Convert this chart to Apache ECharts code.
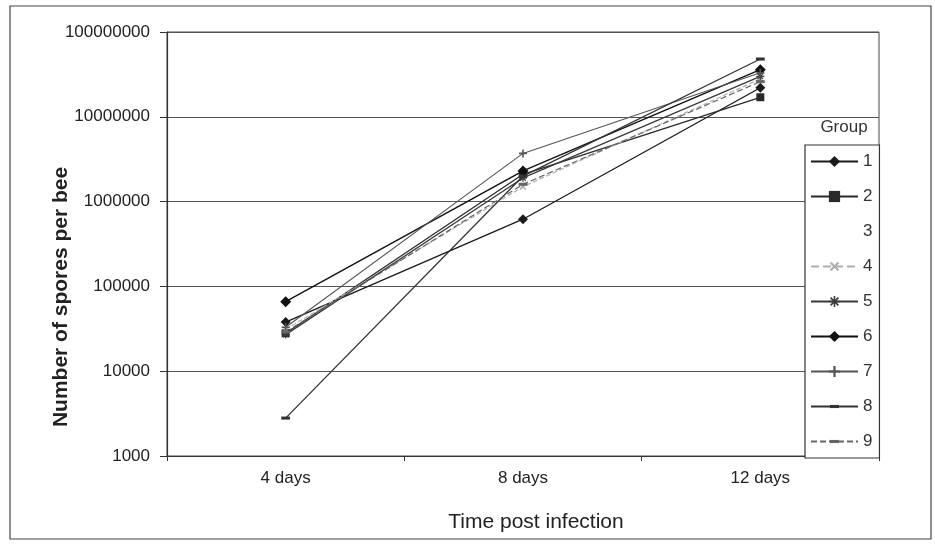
<!DOCTYPE html>
<html><head><meta charset="utf-8">
<script src="https://cdn.jsdelivr.net/npm/echarts@6/dist/echarts.min.js"></script>
<style>html,body{margin:0;padding:0;background:#fff}#c{width:935px;height:544px}</style>
</head><body><div id="c"></div>
<script>
var categories = ['4 days', '8 days', '12 days'];
var groupNames = ['1','2','3','4','5','6','7','8','9'];
var g1 = [38000, 620000, 22000000];
var g2 = [28000, 2100000, 17000000];
var g3 = [];
var g4 = [31000, 1500000, 28000000];
var g5 = [27000, 1900000, 30000000];
var g6 = [66000, 2300000, 36000000];
var g7 = [33000, 3700000, 33000000];
var g8 = [2800, 2000000, 48000000];
var g9 = [29000, 1600000, 26000000];
var yTicks = [1000, 10000, 100000, 1000000, 10000000, 100000000];

var FONT = '"Liberation Sans", Arial, sans-serif';
var plusPath = 'path://M4,0h2v10h-2zM0,4h10v2h-10z';
var starPath = 'path://M4.3,0h1.4v10h-1.4zM0,4.3h10v1.4h-10zM1,2L2,1L9,8L8,9zM8,1L9,2L2,9L1,8z';
var dashPath = 'path://M1,3.6h8v2.8h-8zM5,0M5,10M0,5M10,5';

function mk(name, data, color, symbol, size, lineType, width, rotate) {
  return {
    name: name, type: 'line', data: data,
    symbol: symbol, symbolSize: size, symbolRotate: rotate || 0,
    lineStyle: {color: color, width: width, type: lineType},
    itemStyle: {color: color},
    emphasis: {disabled: true},
    z: 3
  };
}
var series = [
  mk('1', g1, '#1a1a1a', 'diamond', 10, 'solid', 1.3),
  mk('2', g2, '#2a2a2a', 'rect', 8, 'solid', 1.3),
  {name: '3', type: 'line', data: g3, symbol: 'none', lineStyle: {opacity: 0, width: 0}, itemStyle: {opacity: 0}},
  mk('4', g4, '#b0b0b0', plusPath, 8, 'dashed', 1.2, 45),
  mk('5', g5, '#3a3a3a', starPath, 8, 'solid', 1.3),
  mk('6', g6, '#111111', 'diamond', 11, 'solid', 1.4),
  mk('7', g7, '#555555', plusPath, 8, 'solid', 1.1),
  mk('8', g8, '#333333', dashPath, 11, 'solid', 1.3),
  mk('9', g9, '#666666', dashPath, 11, [6, 3], 1.2)
];

var chart = echarts.init(document.getElementById('c'), null, {renderer: 'canvas'});
chart.setOption({
  animation: false,
  backgroundColor: '#ffffff',
  grid: {left: 167, right: 56, top: 32, bottom: 88, show: true, borderColor: '#444', borderWidth: 1, backgroundColor: 'transparent'},
  xAxis: {
    type: 'category', data: categories, boundaryGap: true,
    axisLine: {lineStyle: {color: '#333', width: 1.2}},
    axisTick: {show: true, length: 5, lineStyle: {color: '#333'}},
    axisLabel: {color: '#222', fontFamily: FONT, fontSize: 17, margin: 14},
    splitLine: {show: false}
  },
  yAxis: {
    type: 'log', logBase: 10, min: yTicks[0], max: yTicks[yTicks.length - 1],
    axisLine: {show: true, lineStyle: {color: '#333', width: 1.2}},
    axisTick: {show: true, length: 7, lineStyle: {color: '#333'}},
    axisLabel: {color: '#222', fontFamily: FONT, fontSize: 17, margin: 17,
      formatter: function (v) { return String(Math.round(v)); }},
    splitLine: {show: true, lineStyle: {color: '#555', width: 1.2}},
    minorTick: {show: false}
  },
  legend: {
    orient: 'vertical', left: 805, top: 145,
    data: groupNames,
    itemWidth: 47, itemHeight: 14, itemGap: 18,
    padding: [8, 7, 8, 5],
    borderColor: '#333', borderWidth: 1.2, backgroundColor: '#fff',
    textStyle: {color: '#333', fontFamily: FONT, fontSize: 17},
    selectedMode: false
  },
  graphic: [
    {type: 'rect', shape: {x: 10, y: 6, width: 921, height: 533}, style: {fill: 'none', stroke: '#444', lineWidth: 1.2}, silent: true, z: 0},
    {type: 'text', rotation: Math.PI / 2, x: 61, y: 297, style: {text: 'Number of spores per bee', font: 'bold 21px ' + FONT, fill: '#222', textAlign: 'center', textVerticalAlign: 'middle'}, silent: true},
    {type: 'text', x: 536, y: 522, style: {text: 'Time post infection', font: '21px ' + FONT, fill: '#222', textAlign: 'center', textVerticalAlign: 'middle'}, silent: true},
    {type: 'text', x: 844, y: 127, style: {text: 'Group', font: '17px ' + FONT, fill: '#333', textAlign: 'center', textVerticalAlign: 'middle'}, silent: true}
  ],
  series: series
});
</script></body></html>
